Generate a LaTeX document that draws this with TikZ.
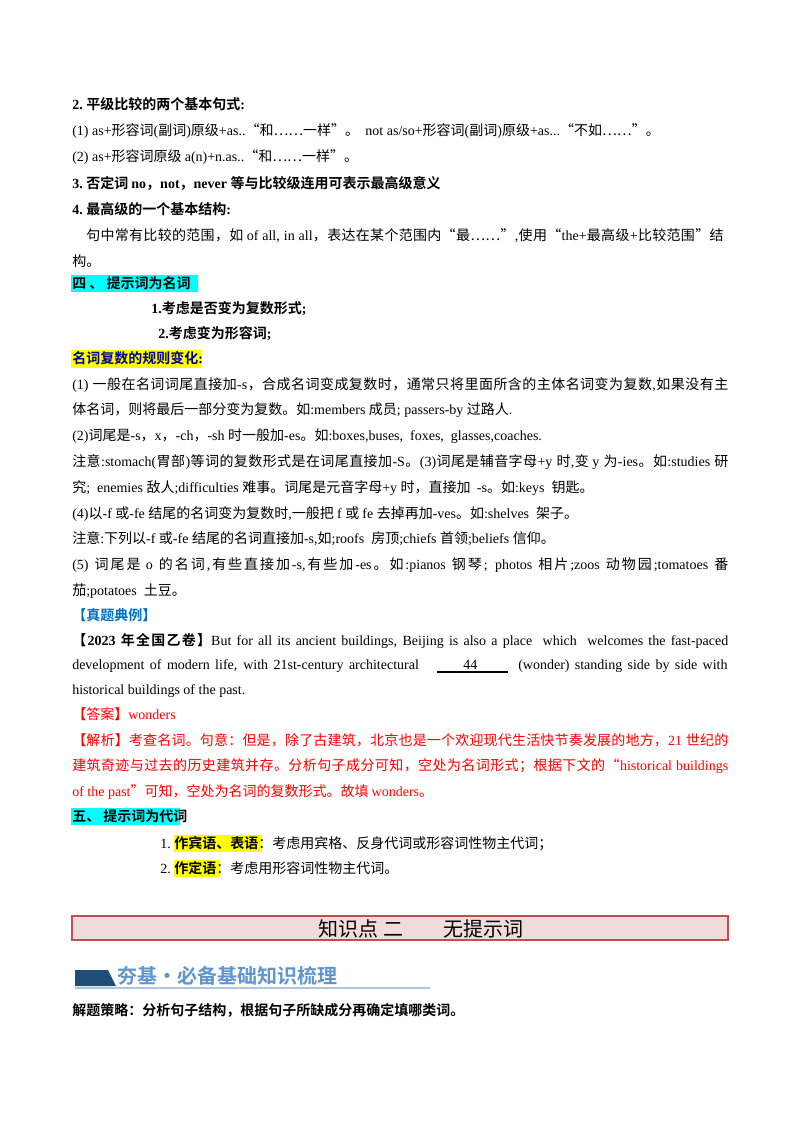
\documentclass[tikz,border=0pt]{standalone}
\usepackage{fontspec}
\setmainfont{Liberation Serif}
\newfontfamily\cjkr{Noto Sans CJK SC}[BoldFont={Noto Sans CJK SC Bold}]
\newXeTeXintercharclass\cjkcls
\makeatletter
\def\setcjkrange#1#2{\count@=#1\relax\loop\XeTeXcharclass\count@=\cjkcls\ifnum\count@<#2\advance\count@ 1\repeat}
\makeatother
\setcjkrange{"4E00}{"9FFF}
\setcjkrange{"3000}{"303F}
\setcjkrange{"FF00}{"FFEF}
\setcjkrange{"2018}{"201D}
\XeTeXcharclass"2026=\cjkcls
\XeTeXcharclass"00B7=\cjkcls
\def\curcjk{\cjkr}\def\curlat{\rmfamily}
\XeTeXinterchartoks 0 \cjkcls = {\curcjk\hskip0pt plus 1pt}
\XeTeXinterchartoks 4095 \cjkcls = {\curcjk}
\XeTeXinterchartoks \cjkcls 0 = {\curlat\hskip0pt plus 1pt}
\XeTeXinterchartoks \cjkcls \cjkcls = {\hskip0pt plus 1pt}
\XeTeXinterchartoks 4095 0 = {\curlat}
\XeTeXinterchartokenstate=1
\newcommand\fullline[1]{\hbox to 492pt{#1}}
\definecolor{hlcyan}{RGB}{0,255,255}
\definecolor{hlyel}{RGB}{255,255,0}
\definecolor{tblue}{RGB}{0,112,192}
\definecolor{tred}{RGB}{255,0,0}
\definecolor{boxfill}{RGB}{242,220,219}
\definecolor{boxline}{RGB}{192,80,77}
\definecolor{bandark}{RGB}{31,78,121}
\definecolor{bantext}{RGB}{95,150,205}
\definecolor{banline}{RGB}{170,200,225}
\tikzset{
 ln/.style={anchor=base west,inner sep=0pt,font=\fontsize{10.5}{12}\selectfont},
 bd/.style={ln,font=\fontsize{10.5}{12}\selectfont\def\curcjk{\cjkr\bfseries}\def\curlat{\rmfamily\bfseries}\bfseries},
}
\begin{document}
\begin{tikzpicture}[x=0.75pt,y=-0.75pt]
\useasboundingbox (0,0) rectangle (800,1132);
\fill[white] (0,0) rectangle (800,1132);
% highlights
\fill[hlcyan] (71,275) rectangle (198,292);
\fill[hlyel] (71,350) rectangle (201,368);
\fill[hlcyan] (71,808) rectangle (180,825);
\fill[hlyel] (174,835) rectangle (262,852);
\fill[hlyel] (174,860) rectangle (220,877);
\node[bd] (l1) at (72,109) {2.\ 平级比较的两个基本句式:};
\node[ln] (l2) at (72,135) {(1)\ as+形容词(副词)原级+as..“和……一样”。\ \ not\ as/so+形容词(副词)原级+as...“不如……”。};
\node[ln] (l3) at (72,161) {(2)\ as+形容词原级 a(n)+n.as..“和……一样”。};
\node[bd] (l4) at (72,188) {3.\ 否定词 no，not，never 等与比较级连用可表示最高级意义};
\node[bd] (l5) at (72,214) {4.\ 最高级的一个基本结构:};
\node[ln] (l6) at (86,240) {\hbox to 478pt{句中常有比较的范围，如 of all, in all，表达在某个范围内“最……”,使用“the+最高级+比较范围”结}};
\node[ln] (l7) at (72,266) {构。};
\node[bd] (l8) at (72,288) {四\ 、\ 提示词为名词};
\node[bd] (l9) at (151,313) {1.考虑是否变为复数形式;};
\node[bd] (l10) at (158,338) {2.考虑变为形容词;};
\node[bd,text=blue!60!black] (l11) at (72,363) {名词复数的规则变化\textcolor{black}{:}};
\node[ln] (l12) at (72,389) {\fullline{(1) 一般在名词词尾直接加-s，合成名词变成复数时，通常只将里面所含的主体名词变为复数,如果没有主}};
\node[ln] (l13) at (72,414) {体名词，则将最后一部分变为复数。如:members 成员; passers-by 过路人.};
\node[ln] (l14) at (72,440) {(2)词尾是-s，x，-ch，-sh 时一般加-es。如:boxes,buses,\ \ foxes,\ \ glasses,coaches.};
\node[ln] (l15) at (72,466) {\fullline{注意:stomach(胃部)等词的复数形式是在词尾直接加-S。(3)词尾是辅音字母+y 时,变 y 为-ies。如:studies 研}};
\node[ln] (l16) at (72,492) {究;\ \ enemies 敌人;difficulties 难事。词尾是元音字母+y 时，直接加\ \ -s。如:keys\ \ 钥匙。};
\node[ln] (l17) at (72,518) {(4)以-f 或-fe 结尾的名词变为复数时,一般把 f 或 fe 去掉再加-ves。如:shelves\ \ 架子。};
\node[ln] (l18) at (72,543) {注意:下列以-f 或-fe 结尾的名词直接加-s,如;roofs\ \ 房顶;chiefs 首领;beliefs 信仰。};
\node[ln] (l19) at (72,569) {\fullline{(5) 词尾是 o 的名词,有些直接加-s,有些加-es。如:pianos 钢琴; photos 相片;zoos 动物园;tomatoes 番}};
\node[ln] (l20) at (72,595) {茄;potatoes\ \ 土豆。};
\node[bd,text=tblue] (l21) at (72,620) {【真题典例】};
\node[ln] (l22) at (72,645) {\fullline{\textbf{【2023 年全国乙卷】}But for all its ancient buildings, Beijing is also a place\ \ which\ \ welcomes the fast-paced}};
\node[ln] (l23) at (72,669) {\hbox to 260pt{development of modern life, with 21st-century architectural}};
\node[ln] (blank) at (463,669) {44};
\coordinate (u1) at (437,672); \coordinate (u2) at (508,672);
\draw[line width=0.8pt] (u1) -- (u2);
\node[ln] (l23b) at (518,669) {\hbox to 157pt{(wonder) standing side by side with}};
\node[ln] (l24) at (72,694) {historical buildings of the past.};
\node[ln,text=tred] (l25) at (72,719) {【答案】wonders};
\node[ln,text=tred] (l26) at (72,745) {\fullline{【解析】考查名词。句意：但是，除了古建筑，北京也是一个欢迎现代生活快节奏发展的地方，21 世纪的}};
\node[ln,text=tred] (l27) at (72,770) {\fullline{建筑奇迹与过去的历史建筑并存。分析句子成分可知，空处为名词形式；根据下文的“historical buildings}};
\node[ln,text=tred] (l28) at (72,796) {of the past”可知，空处为名词的复数形式。故填 wonders。};
\node[bd] (l29) at (72,821) {五、\ 提示词为代词};
\node[ln] (l30) at (160,848) {1.\ {\bfseries\def\curcjk{\cjkr\bfseries}作宾语、表语}\def\curcjk{\cjkr}：考虑用宾格、反身代词或形容词性物主代词；};
\node[ln] (l31) at (160,873) {2.\ {\bfseries\def\curcjk{\cjkr\bfseries}作定语}\def\curcjk{\cjkr}：考虑用形容词性物主代词。};
% title box
\draw[fill=boxfill,draw=boxline,line width=1pt] (72,916) rectangle (728,940);
\node[anchor=base,inner sep=0pt,font=\fontsize{15}{16}\selectfont] (title) at (421,936) {知识点\ 二\hspace{30pt}无提示词};
% banner
\fill[bandark] (75,970) -- (108,970) -- (116,986) -- (75,986) -- cycle;
\draw[banline,line width=0.8pt] (75,988) -- (430,988);
\node[anchor=base west,inner sep=0pt,text=bantext,font=\fontsize{15}{16}\selectfont\def\curcjk{\cjkr\bfseries}\bfseries] (ban) at (117,983) {夯基·必备基础知识梳理};
\node[bd] (strat) at (72,1015) {解题策略：分析句子结构，根据句子所缺成分再确定填哪类词。};
\end{tikzpicture}
\end{document}
